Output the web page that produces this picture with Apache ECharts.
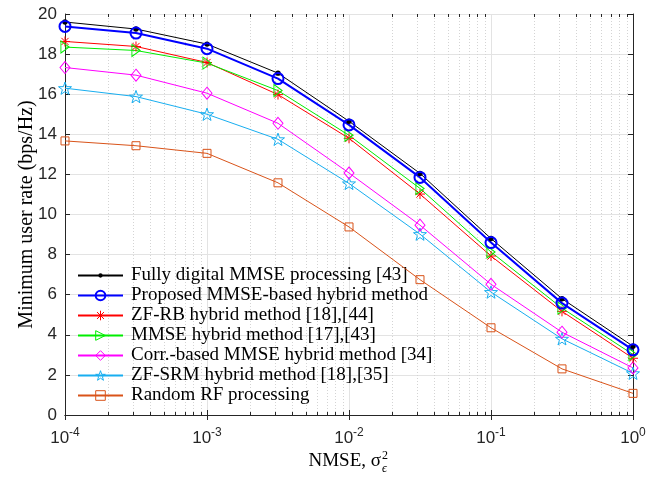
<!DOCTYPE html>
<html>
<head>
<meta charset="utf-8">
<script src="https://cdn.jsdelivr.net/npm/echarts@6/dist/echarts.min.js"></script>
<style>
  html, body { margin: 0; padding: 0; background: #fff; }
  #chart { width: 661px; height: 477px; }
</style>
</head>
<body>
<div id="chart"></div>
<script>
// NMSE points (half-decade steps from 1e-4 to 1)
const nmse = [0.0001, 0.0003162, 0.001, 0.003162, 0.01, 0.03162, 0.1, 0.3162, 1];

// Minimum user rate (bps/Hz) for each scheme
const fullyDigital = [19.6, 19.25, 18.5, 17.05, 14.65, 12.05, 8.8, 5.8, 3.43];
const proposedHybrid = [19.38, 19.05, 18.27, 16.78, 14.47, 11.85, 8.6, 5.58, 3.25];
const zfRbHybrid = [18.63, 18.38, 17.58, 15.98, 13.8, 11.02, 7.93, 5.17, 2.83];
const mmseHybrid = [18.35, 18.18, 17.55, 16.18, 13.95, 11.3, 8.13, 5.33, 3.02];
const corrMmseHybrid = [17.33, 16.95, 16.05, 14.55, 12.07, 9.47, 6.52, 4.13, 2.35];
const zfSrmHybrid = [16.3, 15.88, 15.0, 13.75, 11.55, 9.02, 6.13, 3.8, 2.08];
const randomRf = [13.67, 13.43, 13.05, 11.58, 9.38, 6.75, 4.35, 2.3, 1.08];

const seriesNames = [
  'Fully digital MMSE processing [43]',
  'Proposed MMSE-based hybrid method',
  'ZF-RB hybrid method [18],[44]',
  'MMSE hybrid method [17],[43]',
  'Corr.-based MMSE hybrid method [34]',
  'ZF-SRM hybrid method [18],[35]',
  'Random RF processing'
];

// Axis ranges
const xMin = 0.0001, xMax = 1;
const yMin = 0, yMax = 20, yStep = 2;

// Minor log positions (2..9 in every decade)
const minorTicks = [];
for (let d = -4; d < 0; d++) {
  for (let k = 2; k <= 9; k++) minorTicks.push(k * Math.pow(10, d));
}

const SERIF = '"Liberation Serif", "Times New Roman", serif';
const SANS = '"Liberation Sans", Arial, sans-serif';
const AXIS_COLOR = '#262626';
const CLEAR = 'rgba(255,255,255,0)';

function starPath() {
  const pts = [];
  for (let i = 0; i < 10; i++) {
    const r = i % 2 === 0 ? 10 : 4;
    const a = -Math.PI / 2 + i * Math.PI / 5;
    pts.push((r * Math.cos(a)).toFixed(2) + ',' + (r * Math.sin(a)).toFixed(2));
  }
  return 'path://M' + pts.join(' L') + ' Z';
}
const asteriskPath = 'path://M0,-5 L0,5 M-5,0 L5,0 M-3.6,-3.6 L3.6,3.6 M-3.6,3.6 L3.6,-3.6';
const rightTriPath = 'path://M0,0 L9,5.5 L0,11 Z';
// small filled dot inside a wider (empty) frame so it stays small when scaled
const dotPath = 'path://M-6,-6 L-6,-6 M6,6 L6,6 M-2.7,0 A2.7,2.7 0 1 1 2.7,0 A2.7,2.7 0 1 1 -2.7,0 Z';

// Marker styles per series (same order as seriesNames)
const styles = [
  { color: '#000000', symbol: dotPath, size: 12, width: 1, filled: true },
  { color: '#0000ff', symbol: 'circle', size: 11, width: 2, filled: false },
  { color: '#ff0000', symbol: asteriskPath, size: 10, width: 1, filled: false },
  { color: '#00ee00', symbol: rightTriPath, size: [10, 12], width: 1, filled: false },
  { color: '#ff00ff', symbol: 'diamond', size: [10, 12], width: 1, filled: false },
  { color: '#18aef0', symbol: starPath(), size: 13, width: 1, filled: false },
  { color: '#d95319', symbol: 'rect', size: 8, width: 1, filled: false }
];
const seriesValues = [fullyDigital, proposedHybrid, zfRbHybrid, mmseHybrid, corrMmseHybrid, zfSrmHybrid, randomRf];

function markerStyle(s) {
  return {
    color: s.filled ? s.color : CLEAR,
    borderColor: s.color,
    borderWidth: s.filled ? 0 : s.width
  };
}

function lineSeries(i) {
  const s = styles[i];
  return {
    name: seriesNames[i],
    type: 'line',
    data: nmse.map((x, k) => [x, seriesValues[i][k]]),
    symbol: s.symbol,
    symbolSize: s.size,
    symbolKeepAspect: true,
    showAllSymbol: true,
    lineStyle: { color: s.color, width: s.width },
    itemStyle: markerStyle(s),
    emphasis: { disabled: true },
    z: 5
  };
}

const chart = echarts.init(document.getElementById('chart'), null, { renderer: 'canvas' });

const option = {
  backgroundColor: '#ffffff',
  animation: false,
  grid: { left: 65, right: 28, top: 14, bottom: 62, containLabel: false },
  xAxis: [
    {
      type: 'log',
      logBase: 10,
      min: xMin,
      max: xMax,
      splitNumber: 4,
      axisLine: { show: true, lineStyle: { color: AXIS_COLOR, width: 1 } },
      axisTick: { show: true, inside: true, length: 5, lineStyle: { color: AXIS_COLOR } },
      axisLabel: {
        margin: 12,
        formatter: function (v) {
          const e = Math.round(Math.log10(v));
          return '{b|10}{s|' + e + '}';
        },
        rich: {
          b: { fontFamily: SANS, fontSize: 17, color: AXIS_COLOR },
          s: { fontFamily: SANS, fontSize: 12, color: AXIS_COLOR, padding: [0, 0, 10, 0] }
        }
      },
      splitLine: { show: true, lineStyle: { color: '#e3e3e3', width: 1 } },
      minorTick: { show: false }
    },
    {
      type: 'log',
      logBase: 10,
      min: xMin,
      max: xMax,
      splitNumber: 4,
      position: 'top',
      axisLine: { show: true, lineStyle: { color: AXIS_COLOR, width: 1 } },
      axisTick: { show: true, inside: true, length: 5, lineStyle: { color: AXIS_COLOR } },
      axisLabel: { show: false },
      splitLine: { show: false }
    }
  ],
  yAxis: [
    {
      type: 'value',
      min: yMin,
      max: yMax,
      interval: yStep,
      name: 'Minimum user rate (bps/Hz)',
      nameLocation: 'middle',
      nameGap: 28,
      nameRotate: 90,
      nameMoveOverlap: false,
      nameTextStyle: { fontFamily: SERIF, fontSize: 20, color: '#000' },
      axisLine: { show: true, lineStyle: { color: AXIS_COLOR, width: 1 } },
      axisTick: { show: true, inside: true, length: 5, lineStyle: { color: AXIS_COLOR } },
      axisLabel: { fontFamily: SANS, fontSize: 17, color: AXIS_COLOR, margin: 8 },
      splitLine: { show: true, lineStyle: { color: '#e3e3e3', width: 1 } }
    },
    {
      type: 'value',
      min: yMin,
      max: yMax,
      interval: yStep,
      position: 'right',
      axisLine: { show: true, lineStyle: { color: AXIS_COLOR, width: 1 } },
      axisTick: { show: true, inside: true, length: 5, lineStyle: { color: AXIS_COLOR } },
      axisLabel: { show: false },
      splitLine: { show: false }
    }
  ],
  legend: {
    data: seriesNames.map((n, i) => ({
      name: n,
      itemStyle: markerStyle(styles[i])
    })),
    orient: 'vertical',
    left: 72,
    top: 261,
    itemWidth: 45,
    itemHeight: 12,
    itemGap: 1,
    textStyle: { fontFamily: SERIF, fontSize: 19, color: '#000', padding: [0, 0, 0, 3] },
    selectedMode: false,
    backgroundColor: CLEAR
  },
  graphic: [
    {
      type: 'text', x: 381, y: 461,
      style: { text: 'NMSE, σ', font: '19px ' + SERIF, fill: '#000', textAlign: 'right', textVerticalAlign: 'middle' }
    },
    {
      type: 'text', x: 382, y: 456,
      style: { text: '2', font: '12px ' + SERIF, fill: '#000', textAlign: 'left', textVerticalAlign: 'middle' }
    },
    {
      type: 'text', x: 382, y: 469,
      style: { text: 'ϵ', font: 'italic 12px ' + SERIF, fill: '#000', textAlign: 'left', textVerticalAlign: 'middle' }
    }
  ],
  series: [
    {
      // Minor log grid lines with small inward ticks on the bottom and top edges
      type: 'custom',
      silent: true,
      z: 1,
      data: minorTicks.map(v => [v]),
      encode: { x: 0 },
      renderItem: function (params, api) {
        const v = api.value(0);
        const b = api.coord([v, yMin]);
        const t = api.coord([v, yMax]);
        const x = Math.round(b[0]) + 0.5;
        return {
          type: 'group',
          children: [
            { type: 'line', shape: { x1: x, y1: b[1], x2: x, y2: t[1] },
              style: { stroke: '#d4d4d4', lineWidth: 1, lineDash: [1, 2] } },
            { type: 'line', shape: { x1: x, y1: b[1], x2: x, y2: b[1] - 3 },
              style: { stroke: AXIS_COLOR, lineWidth: 1 } },
            { type: 'line', shape: { x1: x, y1: t[1], x2: x, y2: t[1] + 3 },
              style: { stroke: AXIS_COLOR, lineWidth: 1 } }
          ]
        };
      }
    },
    // drawn back to front: random RF first, proposed method on top
    lineSeries(6),
    lineSeries(5),
    lineSeries(4),
    lineSeries(2),
    lineSeries(3),
    lineSeries(0),
    lineSeries(1)
  ]
};

chart.setOption(option);
</script>
</body>
</html>
